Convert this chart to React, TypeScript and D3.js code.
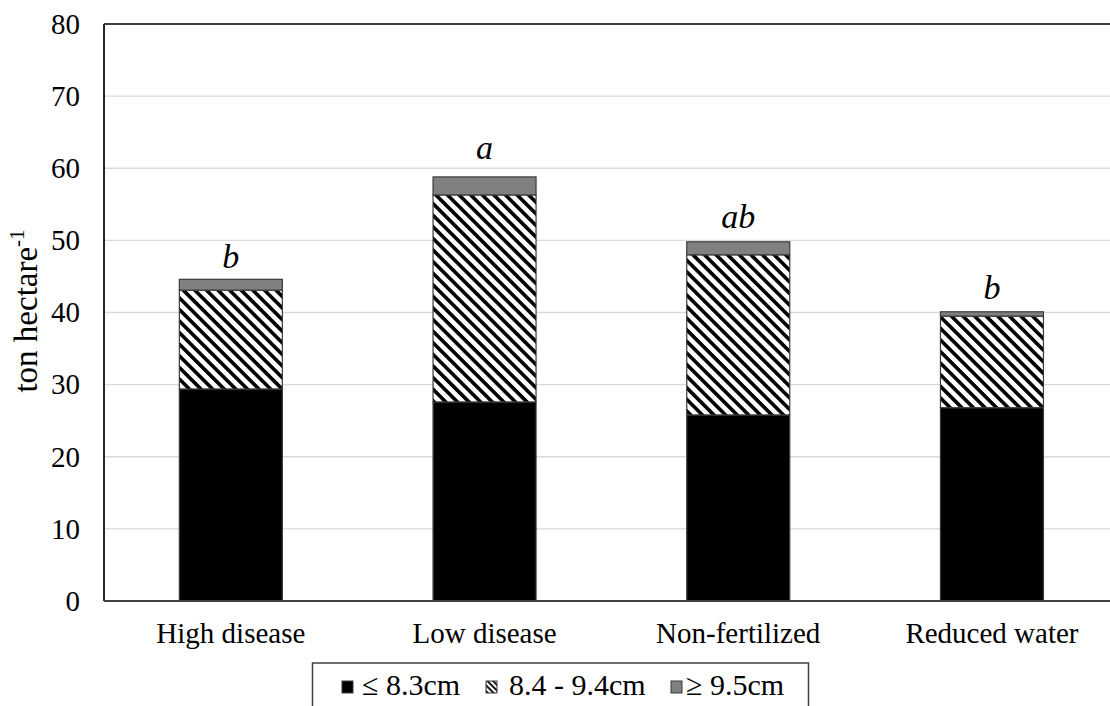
import React from "react";
import * as d3 from "d3";

// Yield by tuber diameter class for each treatment (ton per hectare)
const categories = ["High disease", "Low disease", "Non-fertilized", "Reduced water"];
const smallClass = [29.4, 27.6, 25.8, 26.8]; // ≤ 8.3cm
const mediumClass = [13.7, 28.7, 22.2, 12.7]; // 8.4 - 9.4cm
const largeClass = [1.5, 2.5, 1.8, 0.6]; // ≥ 9.5cm
const groupLetters = ["b", "a", "ab", "b"];
const yTicks = [0, 10, 20, 30, 40, 50, 60, 70, 80];
const seriesKeys = ["small", "medium", "large"];
const legendLabels = ["≤ 8.3cm", "8.4 - 9.4cm", "≥ 9.5cm"];

const W = 1110;
const H = 706;
const FONT = "Liberation Serif";
const txt = { fontFamily: FONT };

export default function App() {
  const left = 104;
  const top = 24;
  const bottom = 601;
  const step = 253.7;
  const right = left + step * categories.length;

  const x = d3.scaleBand<string>().domain(categories).range([left, right]).padding(0);
  const y = d3.scaleLinear().domain([0, 80]).range([bottom, top]);
  const barW = x.bandwidth() * 0.406;

  const rows = categories.map((c, i) => ({
    category: c,
    small: smallClass[i],
    medium: mediumClass[i],
    large: largeClass[i],
  }));
  const stacked = d3.stack<any>().keys(seriesKeys)(rows);

  const fills: Record<string, string> = {
    small: "#000000",
    medium: "url(#hatch)",
    large: "#808080",
  };

  // gap in px between each bar top and the baseline of its letter
  const letterGap = [11, 18, 14, 13];

  const legendItems = seriesKeys.map((k, i) => ({ key: k, label: legendLabels[i] }));
  const legendSwatchX = [342, 486, 671];
  const legendTextX = [362, 509, 686];

  return (
    <svg
      width={W}
      height={H}
      style={{ position: "absolute", left: 0, top: 0, background: "#fff", fontFamily: FONT }}
    >
      <defs>
        <pattern
          id="hatch"
          patternUnits="userSpaceOnUse"
          width={8.2}
          height={8.2}
          patternTransform="rotate(45)"
        >
          <rect width={8.2} height={8.2} fill="#fff" />
          <rect y={0} width={8.2} height={3.6} fill="#000" />
        </pattern>
        <pattern
          id="hatchSmall"
          patternUnits="userSpaceOnUse"
          width={4}
          height={4}
          patternTransform="rotate(45)"
        >
          <rect width={4} height={4} fill="#fff" />
          <rect width={4} height={1.8} fill="#000" />
        </pattern>
      </defs>

      {/* gridlines */}
      {yTicks.slice(1, -1).map((t) => (
        <line key={t} x1={left} x2={W} y1={y(t)} y2={y(t)} stroke="#d9d9d9" strokeWidth={1.3} />
      ))}

      {/* stacked bars */}
      {stacked.map((layer) =>
        layer.map((d, i) => {
          const cx = (x(categories[i]) as number) + x.bandwidth() / 2;
          return (
            <rect
              key={layer.key + i}
              x={cx - barW / 2}
              y={y(d[1])}
              width={barW}
              height={y(d[0]) - y(d[1])}
              fill={fills[layer.key]}
              stroke="#3a3a3a"
              strokeWidth={1.2}
            />
          );
        })
      )}

      {/* significance letters */}
      {categories.map((c, i) => {
        const total = smallClass[i] + mediumClass[i] + largeClass[i];
        return (
          <text
            key={c}
            x={(x(c) as number) + x.bandwidth() / 2}
            y={y(total) - letterGap[i]}
            textAnchor="middle"
            fontSize={34}
            fill="#000"
            style={{ fontFamily: FONT, fontStyle: "italic" }}
          >
            {groupLetters[i]}
          </text>
        );
      })}

      {/* plot frame */}
      <line x1={left} x2={W} y1={top} y2={top} stroke="#404040" strokeWidth={2} />
      <line x1={left} x2={left} y1={top} y2={bottom} stroke="#262626" strokeWidth={2} />
      <line x1={left} x2={W} y1={bottom} y2={bottom} stroke="#404040" strokeWidth={2.2} />

      {/* y ticks */}
      {yTicks.map((t) => (
        <text key={t} x={80} y={y(t)} dy="0.34em" textAnchor="end" fontSize={29} fill="#000" style={txt}>
          {t}
        </text>
      ))}

      {/* x labels */}
      {categories.map((c) => (
        <text
          key={c}
          x={(x(c) as number) + x.bandwidth() / 2}
          y={643}
          textAnchor="middle"
          fontSize={29}
          fill="#000"
          style={txt}
        >
          {c}
        </text>
      ))}

      {/* y axis title */}
      <text transform="translate(37,311) rotate(-90)" textAnchor="middle" fontSize={33} fill="#000" style={txt}>
        ton hectare
        <tspan fontSize={21} dy={-13}>
          -1
        </tspan>
      </text>

      {/* legend */}
      <rect x={312.5} y={663} width={496} height={60} fill="#fff" stroke="#404040" strokeWidth={1.5} />
      {legendItems.map((item, i) => (
        <g key={item.key}>
          <rect
            x={legendSwatchX[i]}
            y={681}
            width={11}
            height={12}
            fill={item.key === "medium" ? "url(#hatchSmall)" : fills[item.key]}
            stroke="#3a3a3a"
            strokeWidth={1}
          />
          <text x={legendTextX[i]} y={695} fontSize={30} fill="#000" style={txt}>
            {item.label}
          </text>
        </g>
      ))}
    </svg>
  );
}
